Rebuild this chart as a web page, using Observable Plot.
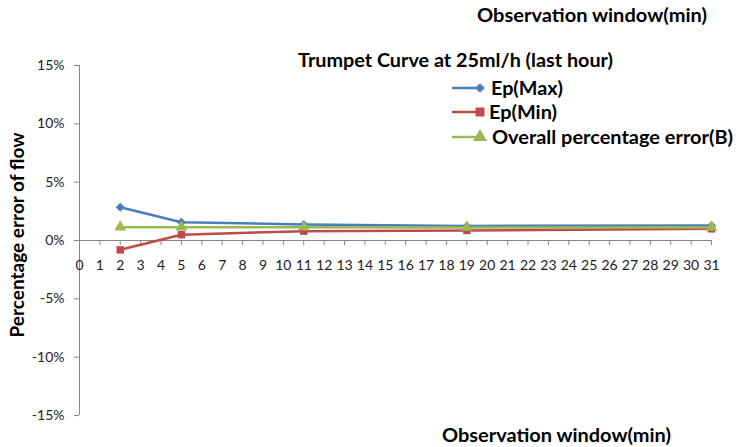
<!DOCTYPE html>
<html><head><meta charset="utf-8">
<script src="https://cdn.jsdelivr.net/npm/d3@7"></script>
<script src="https://cdn.jsdelivr.net/npm/@observablehq/plot@0.6"></script>
<style>html,body{margin:0;padding:0;background:#fff} svg{display:block}</style>
</head><body><div id="chart"></div>
<script>
// ---- data ----
const minutes = [2, 5, 11, 19, 31];
const epMax = [2.85, 1.57, 1.37, 1.25, 1.28];
const epMin = [-0.8, 0.5, 0.8, 0.86, 1.0];
const overallB = [1.14, 1.14, 1.14, 1.12, 1.12];
const seriesNames = ["Ep(Max)", "Ep(Min)", "Overall percentage error(B)"];
const seriesColors = ["#4A7EBB", "#BE4B48", "#98B954"];
const seriesSymbols = ["square", "square", "triangle"];
const seriesRotate = [45, 0, 0];
const xTicks = [0,1,2,3,4,5,6,7,8,9,10,11,12,13,14,15,16,17,18,19,20,21,22,23,24,25,26,27,28,29,30,31];
const yTicks = [-15, -10, -5, 0, 5, 10, 15];
const titleText = "Trumpet Curve at 25ml/h (last hour)";
const xLabelText = "Observation window(min)";
const yLabelText = "Percentage error of flow";

const seriesValues = [epMax, epMin, overallB];
const rows = seriesNames.map((name, s) =>
  minutes.map((m, i) => ({series: name, minute: m, value: seriesValues[s][i]})));

const axisColor = "#868686";
const tickFont = "Lato, 'Open Sans', sans-serif";
const markerR = [3.6, 4.2, 4.4];

const marks = [
  Plot.ruleX([0], {stroke: axisColor, strokeWidth: 1}),
  Plot.ruleY([0], {stroke: axisColor, strokeWidth: 1}),
  Plot.ruleY(yTicks, {y: d => d, x1: 0, x2: 0, insetLeft: -5, stroke: axisColor}),
  Plot.ruleX(xTicks, {x: d => d, y1: 0, y2: 0, insetBottom: -5, stroke: axisColor}),
  Plot.text(yTicks, {x: 0, y: d => d, text: d => d + "%", dx: -15, textAnchor: "end", fill: "#222", fontSize: 14}),
  Plot.text(xTicks, {x: d => d, y: 0, text: d => String(d), dy: 25, fill: "#222", fontSize: 14})
];
rows.forEach((r, s) => {
  marks.push(Plot.line(r, {x: "minute", y: "value", stroke: seriesColors[s], strokeWidth: 2.5}));
  marks.push(Plot.dot(r, {x: "minute", y: "value", fill: seriesColors[s], symbol: () => seriesSymbols[s],
    rotate: seriesRotate[s], r: markerR[s], stroke: "none"}));
});

const plot = Plot.plot({
  width: 743, height: 447,
  marginLeft: 79, marginRight: 32, marginTop: 65, marginBottom: 32,
  style: {fontFamily: tickFont, background: "#fff", overflow: "visible"},
  x: {domain: [0, 31], axis: null},
  y: {domain: [-15, 15], axis: null},
  symbol: {domain: ["square", "triangle"], range: ["square", "triangle"]},
  marks
});
document.getElementById("chart").appendChild(plot);

// ---- titles and legend ----
const svg = d3.select(plot);
const boldFont = "Lato, 'Open Sans', sans-serif";
function label(txt, x, y, width, size, rotate) {
  const t = svg.append("text")
    .attr("font-family", boldFont).attr("font-weight", "bold")
    .attr("font-size", size).attr("fill", "#000")
    .attr("dominant-baseline", "central")
    .attr("textLength", width).attr("lengthAdjust", "spacingAndGlyphs")
    .text(txt);
  if (rotate) {
    t.attr("text-anchor", "middle").attr("transform", `translate(${x},${y}) rotate(-90)`);
  } else {
    t.attr("text-anchor", "start").attr("x", x).attr("y", y);
  }
  return t;
}
label(xLabelText, 477, 15, 230, 18);
label(titleText, 298, 60, 315, 18);
label(xLabelText, 442, 435, 229, 18);
label(yLabelText, 17, 235, 205, 18, true);

const legendY = [88, 112, 137];
const legendTextX = [491, 489, 492];
const legendW = [72, 68, 241];
const legendArea = [45, 80, 85];
const symGen = {square: d3.symbolSquare, triangle: d3.symbolTriangle};
seriesNames.forEach((name, s) => {
  const g = svg.append("g");
  g.append("line").attr("x1", 452).attr("x2", 480).attr("y1", legendY[s]).attr("y2", legendY[s])
    .attr("stroke", seriesColors[s]).attr("stroke-width", 2.5);
  g.append("path").attr("d", d3.symbol(symGen[seriesSymbols[s]], legendArea[s])())
    .attr("transform", `translate(480,${legendY[s]}) rotate(${seriesRotate[s]})`).attr("fill", seriesColors[s]);
  label(name, legendTextX[s], legendY[s], legendW[s], 18);
});
</script>
</body></html>
